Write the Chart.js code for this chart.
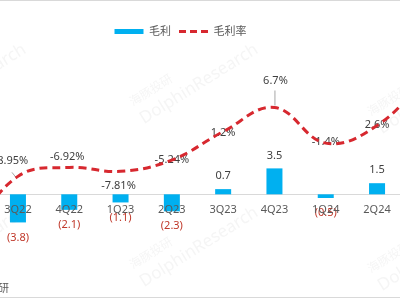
<!DOCTYPE html>
<html><head><meta charset="utf-8">
<script src="https://cdn.jsdelivr.net/npm/chart.js@4.4.1/dist/chart.umd.min.js"></script>
<style>
html,body{margin:0;padding:0;width:400px;height:300px;overflow:hidden;background:#fff;}
#wrap{position:relative;width:400px;height:300px;overflow:hidden;background:#fff;}
#lineTop{position:absolute;left:0;top:0;width:400px;border-top:1px solid #d9d9d9;}
#lineBottom{position:absolute;left:0;top:297px;width:400px;border-top:1px solid #d9d9d9;}
#box{position:absolute;left:-93px;top:0;width:547px;height:300px;}
.wm{position:absolute;transform:rotate(-32deg);transform-origin:0 0;white-space:nowrap;color:rgba(140,140,140,0.09);font-family:"Noto Sans","Noto Sans CJK SC",sans-serif;line-height:1;pointer-events:none;}
.wm .a{font-size:12px;font-family:"Noto Sans CJK SC",sans-serif;display:block;height:14px;}
.wm .b{font-size:17px;display:block;margin-top:3px;}
#src{position:absolute;right:391px;top:279px;font:11px "Noto Sans CJK SC",sans-serif;color:#595959;white-space:nowrap;}
</style></head>
<body>
<div id="wrap">
  <div id="box"><canvas id="c"></canvas></div>
  <div class="wm" style="left:-105px;top:97px"><span class="a">海豚投研</span><span class="b">DolphinResearch</span></div>
  <div class="wm" style="left:127px;top:97px"><span class="a">海豚投研</span><span class="b">DolphinResearch</span></div>
  <div class="wm" style="left:365px;top:107px"><span class="a">海豚投研</span><span class="b">DolphinResearch</span></div>
  <div class="wm" style="left:-105px;top:260px"><span class="a">海豚投研</span><span class="b">DolphinResearch</span></div>
  <div class="wm" style="left:127px;top:260px"><span class="a">海豚投研</span><span class="b">DolphinResearch</span></div>
  <div class="wm" style="left:365px;top:264px"><span class="a">海豚投研</span><span class="b">DolphinResearch</span></div>
  <div id="src">资料来源：公司财报，海豚投研</div>
  <div id="lineTop"></div>
  <div id="lineBottom"></div>
</div>
<script>
const categories = ['2Q22','3Q22','4Q22','1Q23','2Q23','3Q23','4Q23','1Q24','2Q24','3Q24'];
const grossProfit = [-4.5, -3.8, -2.1, -1.1, -2.3, 0.7, 3.5, -0.5, 1.5, 2.5];
const grossMargin = [-23.0, -8.95, -6.92, -7.81, -5.24, 1.2, 6.7, -1.4, 2.6, 14.0];
const profitLabels = ['(4.5)','(3.8)','(2.1)','(1.1)','(2.3)','0.7','3.5','(0.5)','1.5','2.5'];
const marginLabels = ['-23.0%','-8.95%','-6.92%','-7.81%','-5.24%','1.2%','6.7%','-1.4%','2.6%','14.0%'];

const FONT = '"Noto Sans","Noto Sans CJK SC",sans-serif';
const marginOffsets = [[0,-14],[-7,-16],[-2,-11],[-2,15],[0,0],[0,1],[1,-27],[0,-1],[0,-1],[0,-14]];

const labelPlugin = {
  id: 'valueLabels',
  beforeDatasetsDraw(chart) {
    const ctx = chart.ctx;
    const barMeta = chart.getDatasetMeta(0);
    const lineMeta = chart.getDatasetMeta(1);
    ctx.save();
    ctx.font = '11px ' + FONT;
    ctx.textAlign = 'center';
    ctx.textBaseline = 'middle';
    barMeta.data.forEach((el, i) => {
      const neg = grossProfit[i] < 0;
      ctx.fillStyle = neg ? '#c0392b' : '#404040';
      ctx.fillText(profitLabels[i], el.x, neg ? el.y + 15 : el.y - 13);
    });
    lineMeta.data.forEach((pt, i) => {
      const o = marginOffsets[i];
      ctx.fillStyle = '#404040';
      ctx.fillText(marginLabels[i], pt.x + o[0], pt.y + o[1]);
    });
    ctx.strokeStyle = '#a6a6a6';
    ctx.lineWidth = 1;
    const p1 = lineMeta.data[1], p6 = lineMeta.data[6];
    ctx.beginPath();
    ctx.moveTo(p1.x - 6, p1.y - 4); ctx.lineTo(p1.x - 2, p1.y + 1);
    ctx.moveTo(p6.x + 0.5, p6.y - 17); ctx.lineTo(p6.x + 0.5, p6.y - 2);
    ctx.stroke();
    ctx.restore();
  }
};

new Chart(document.getElementById('c'), {
  type: 'bar',
  data: {
    labels: categories,
    datasets: [
      {
        label: '毛利',
        data: grossProfit,
        backgroundColor: '#00b0f0',
        borderWidth: 0,
        categoryPercentage: 0.8,
        barPercentage: 0.39,
        yAxisID: 'y',
        order: 2
      },
      {
        type: 'line',
        label: '毛利率',
        data: grossMargin,
        borderColor: '#d7282f',
        backgroundColor: '#d7282f',
        borderWidth: 3,
        borderDash: [8, 5],
        pointRadius: 0,
        pointStyle: 'line',
        tension: 0.4,
        fill: false,
        yAxisID: 'y1',
        order: 1
      }
    ]
  },
  options: {
    responsive: true,
    maintainAspectRatio: false,
    animation: false,
    devicePixelRatio: 1,
    layout: { padding: { top: 18, bottom: 0, left: 0, right: 0 } },
    plugins: {
      tooltip: { enabled: false },
      legend: {
        display: true,
        position: 'top',
        labels: {
          usePointStyle: true,
          pointStyleWidth: 29,
          boxHeight: 5,
          padding: 8,
          color: '#595959',
          font: { size: 11, family: FONT },
          generateLabels(chart) {
            return chart.data.datasets.map((ds, i) => ({
              text: ds.label,
              fillStyle: i === 0 ? '#00b0f0' : 'rgba(0,0,0,0)',
              strokeStyle: i === 0 ? '#00b0f0' : '#d7282f',
              lineWidth: i === 0 ? 0 : 3,
              lineDash: i === 0 ? [] : [7, 4],
              pointStyle: i === 0 ? 'rect' : 'line',
              fontColor: '#595959',
              hidden: false,
              datasetIndex: i
            }));
          }
        }
      }
    },
    scales: {
      x: {
        position: { y: 0 },
        offset: true,
        grid: { display: false, drawTicks: false },
        border: { display: true, color: '#d9d9d9', width: 1 },
        ticks: { color: '#595959', font: { size: 11, family: FONT }, padding: 9, z: 1, maxRotation: 0, autoSkip: false },
        afterFit(s) { s.height = 0; }
      },
      y: {
        display: true,
        position: 'left',
        min: -14.28,
        max: 19.9,
        grid: { display: false },
        border: { display: false },
        ticks: { display: false },
        afterFit(s) { s.width = 34; }
      },
      y1: {
        display: false,
        position: 'right',
        min: -37.05,
        max: 20.45,
        grid: { display: false }
      }
    }
  },
  plugins: [labelPlugin]
});
</script>
</body></html>
